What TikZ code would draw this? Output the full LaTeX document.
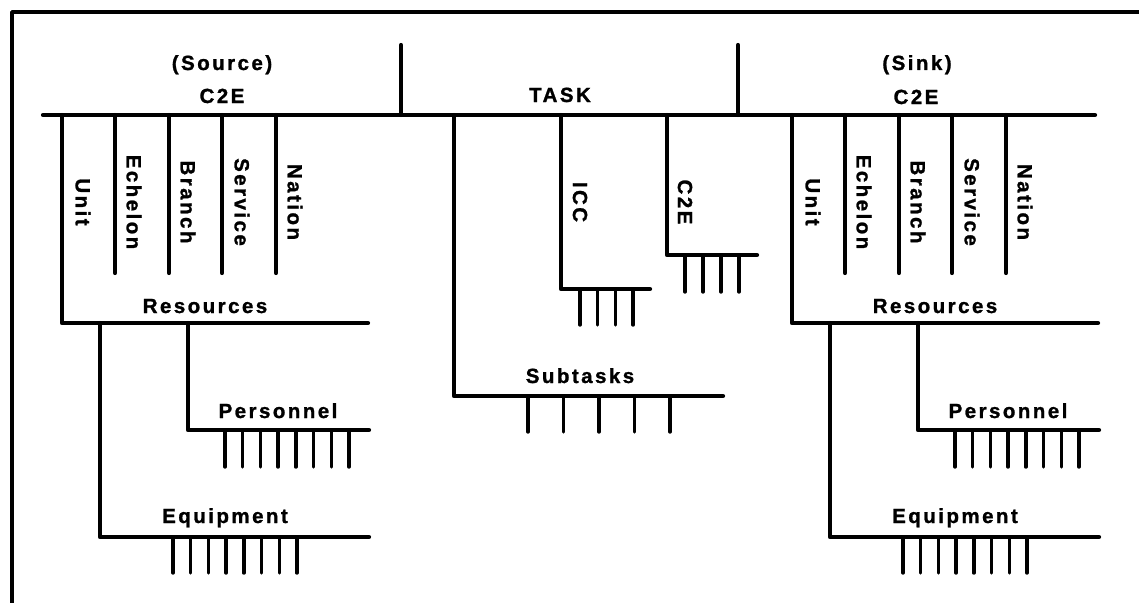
\documentclass[tikz,border=0pt]{standalone}
\usepackage{fontspec}
\newfontfamily\lab{Liberation Sans Bold}[LetterSpace=12,FakeBold=1.2]
\begin{document}
\begin{tikzpicture}[x=1pt,y=-1pt,
  ln/.style={line width=4.2pt,line cap=round,line join=round},
  tk/.style={line width=3.4pt,line cap=round},
  lbl/.style={font=\lab\fontsize{20.5}{24}\selectfont,inner sep=0pt},
  blbl/.style={lbl,anchor=base},
  vlbl/.style={lbl,rotate=-90,anchor=center}]
\useasboundingbox (0,0) rectangle (1139,602);
% frame
\coordinate (fTR) at (1142,12);
\coordinate (fTL) at (12,12);
\coordinate (fBL) at (12,605);
\draw[line width=3.4pt,line join=round] (fTR) -- (fTL) -- (fBL);
% main line and stubs
\coordinate (mL) at (43,115);
\coordinate (mR) at (1095,115);
\draw[ln] (mL) -- (mR);
\coordinate (stA) at (401,45);
\coordinate (stAb) at (401,115);
\coordinate (stB) at (738,45);
\coordinate (stBb) at (738,115);
\draw[ln] (stA) -- (stAb);
\draw[ln] (stB) -- (stBb);
% top labels
\node[blbl] (srcT) at (222,70) {(Source)};
\node[blbl] (srcC) at (222,103) {C2E};
\node[blbl] (task) at (560,102) {TASK};
\node[blbl] (snkT) at (917,70) {(Sink)};
\node[blbl] (snkC) at (916,104) {C2E};
% C2E groups
\foreach \p/\dx in {s/0,k/730}{
\begin{scope}[xshift=\dx pt]
  \coordinate (\p unitT) at (62,115);
  \coordinate (\p unitB) at (62,323);
  \coordinate (\p resR) at (368,323);
  \draw[ln] (\p unitT) -- (\p unitB) -- (\p resR);
  \foreach \n/\x in {ech/115,bra/169,ser/222,nat/276}{
    \coordinate (\p\n T) at (\x,115);
    \coordinate (\p\n B) at (\x,273);
    \draw[ln] (\p\n T) -- (\p\n B);
  }
  \node[vlbl] (\p unitL) at (83,202) {Unit};
  \node[vlbl] (\p echL) at (134,202) {Echelon};
  \node[vlbl] (\p braL) at (188,202) {Branch};
  \node[vlbl] (\p serL) at (242,202) {Service};
  \node[vlbl] (\p natL) at (295,202) {Nation};
  \node[blbl] (\p res) at (205,313) {Resources};
  % personnel
  \coordinate (\p perT) at (188,323);
  \coordinate (\p perC) at (188,430);
  \coordinate (\p perR) at (369,430);
  \draw[ln] (\p perT) -- (\p perC) -- (\p perR);
  \node[blbl] (\p per) at (278,418) {Personnel};
  \foreach \i in {0,...,7}{
    \coordinate (\p pt\i) at (225+17.7*\i,430);
    \draw[tk] (\p pt\i) -- ++(0,37);
  }
  % equipment
  \coordinate (\p eqT) at (100,323);
  \coordinate (\p eqC) at (100,537);
  \coordinate (\p eqR) at (369,537);
  \draw[ln] (\p eqT) -- (\p eqC) -- (\p eqR);
  \node[blbl] (\p eq) at (225,523) {Equipment};
  \foreach \i in {0,...,7}{
    \coordinate (\p et\i) at (173+17.7*\i,537);
    \draw[tk] (\p et\i) -- ++(0,36);
  }
\end{scope}
}
% task branches
\coordinate (subT) at (454,115);
\coordinate (subC) at (454,396);
\coordinate (subR) at (723,396);
\draw[ln] (subT) -- (subC) -- (subR);
\node[blbl] (sub) at (580,383) {Subtasks};
\foreach \i in {0,...,4}{
  \coordinate (st\i) at (528+35.5*\i,396);
  \draw[tk] (st\i) -- ++(0,36);
}
\coordinate (iccT) at (561,115);
\coordinate (iccC) at (561,289);
\coordinate (iccR) at (650,289);
\draw[ln] (iccT) -- (iccC) -- (iccR);
\node[vlbl] (icc) at (580,202) {ICC};
\foreach \i in {0,...,3}{
  \coordinate (it\i) at (580+17.7*\i,289);
  \draw[tk] (it\i) -- ++(0,36);
}
\coordinate (ceT) at (667,115);
\coordinate (ceC) at (667,255);
\coordinate (ceR) at (757,255);
\draw[ln] (ceT) -- (ceC) -- (ceR);
\node[vlbl] (ce) at (685,202) {C2E};
\foreach \i in {0,...,3}{
  \coordinate (ct\i) at (685+18*\i,255);
  \draw[tk] (ct\i) -- ++(0,37);
}
\end{tikzpicture}
\end{document}
